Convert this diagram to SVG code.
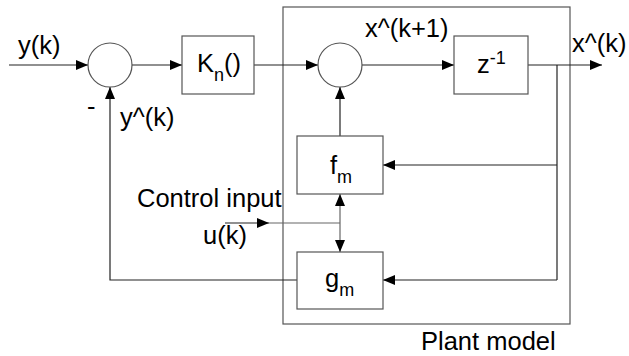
<svg xmlns="http://www.w3.org/2000/svg" width="629" height="356" viewBox="0 0 629 356">
<style>
.box{fill:#fff;stroke:#555;stroke-width:1.2}
.frame{fill:none;stroke:#555;stroke-width:1.2}
.ln{fill:none;stroke:#222;stroke-width:1.2}
.gl{fill:none;stroke:#666;stroke-width:1.2}
text{font-family:"Liberation Sans",Arial,sans-serif;font-size:25.5px;fill:#000}
.sub{font-size:18px}
</style>
<defs>
<marker id="ah" viewBox="0 0 12 10" refX="12" refY="5" markerWidth="12" markerHeight="10" markerUnits="userSpaceOnUse" orient="auto">
<path d="M0,0 L12,5 L0,10 Z" fill="#000"/>
</marker>
</defs>
<g id="plant">
<rect class="frame" x="283" y="7" width="287" height="317"/>
<text x="421" y="350">Plant model</text>
</g>
<g id="connectors">
<line class="ln" x1="9" y1="65" x2="88" y2="65" marker-end="url(#ah)"/>
<line class="ln" x1="132" y1="65" x2="182" y2="65" marker-end="url(#ah)"/>
<line class="ln" x1="254" y1="65" x2="318" y2="65" marker-end="url(#ah)"/>
<line class="ln" x1="362" y1="65" x2="454" y2="65" marker-end="url(#ah)"/>
<line class="ln" x1="528" y1="65" x2="602" y2="65" marker-end="url(#ah)"/>
<polyline class="ln" points="557,65 557,280"/>
<line class="ln" x1="557" y1="165" x2="383" y2="165" marker-end="url(#ah)"/>
<line class="ln" x1="557" y1="280" x2="383" y2="280" marker-end="url(#ah)"/>
<line class="ln" x1="340" y1="136" x2="340" y2="87" marker-end="url(#ah)"/>
<polyline class="ln" points="297,280 110,280 110,87" marker-end="url(#ah)"/>
<line class="ln" x1="225" y1="223" x2="269" y2="223" marker-end="url(#ah)"/>
<line class="gl" x1="269" y1="223" x2="340" y2="223"/>
<line class="gl" x1="340" y1="223" x2="340" y2="194" marker-end="url(#ah)"/>
<line class="gl" x1="340" y1="223" x2="340" y2="252" marker-end="url(#ah)"/>
</g>
<g id="sum1">
<circle class="box" cx="110" cy="65" r="22"/>
</g>
<g id="sum2">
<circle class="box" cx="340" cy="65" r="22"/>
</g>
<g id="kn">
<rect class="box" x="182" y="36" width="72" height="58"/>
<text x="197" y="72">K<tspan class="sub" dy="9">n</tspan><tspan dy="-9">()</tspan></text>
</g>
<g id="zinv">
<rect class="box" x="454" y="36" width="74" height="58"/>
<text x="477" y="73">z<tspan class="sub" dy="-9">-1</tspan></text>
</g>
<g id="fm">
<rect class="box" x="297" y="136" width="86" height="58"/>
<text x="330" y="174">f<tspan class="sub" dy="9">m</tspan></text>
</g>
<g id="gm">
<rect class="box" x="297" y="252" width="86" height="57"/>
<text x="325" y="287">g<tspan class="sub" dy="9">m</tspan></text>
</g>
<g id="labels">
<text x="18" y="54">y(k)</text>
<text x="87" y="115">-</text>
<text x="120" y="126">y^(k)</text>
<text x="365" y="37">x^(k+1)</text>
<text x="572" y="52">x^(k)</text>
<text x="137" y="207">Control input</text>
<text x="203" y="244">u(k)</text>
</g>
</svg>
